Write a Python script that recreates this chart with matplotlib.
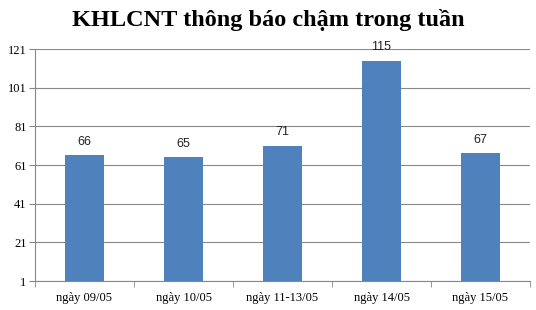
import matplotlib
matplotlib.use("Agg")
import matplotlib.pyplot as plt
import numpy as np

categories = ["ngày 09/05", "ngày 10/05", "ngày 11-13/05", "ngày 14/05", "ngày 15/05"]
values = [66, 65, 71, 115, 67]
yticks = [1, 21, 41, 61, 81, 101, 121]

fig = plt.figure(figsize=(5.36, 3.10), dpi=100)
ax = fig.add_axes([35/536, 1 - 281/310, (530-35)/536, (281-49)/310])

x = np.arange(len(categories))
ax.bar(x, values, width=0.4, color="#4F81BD", zorder=3, bottom=0)
ax.set_xlim(-0.5, len(categories) - 0.5)
ax.set_ylim(1, 121)
ax.set_yticks(yticks)
ax.set_yticklabels([str(t) for t in yticks], fontfamily="Liberation Serif", fontsize=9)
ax.yaxis.grid(True, color="#888888", linewidth=0.8, zorder=0)
ax.set_xticks(x)
ax.set_xticklabels(categories, fontfamily="Liberation Serif", fontsize=9)
ax.set_xticks(np.arange(len(categories) + 1) - 0.5, minor=True)
ax.tick_params(axis="x", which="major", length=0, pad=8)
ax.tick_params(axis="x", which="minor", length=4, color="#888888")
ax.tick_params(axis="y", length=4, color="#888888", pad=2)
for s in ["top", "right"]:
    ax.spines[s].set_visible(False)
for s in ["left", "bottom"]:
    ax.spines[s].set_color("#888888")

for xi, v in zip(x, values):
    ax.text(xi, v + 4, str(v), ha="center", va="bottom", fontsize=9,
            fontfamily="Liberation Sans", color="#222222")

fig.text(0.5, 1 - 20/310, "KHLCNT thông báo chậm trong tuần", ha="center", va="center",
         fontsize=17.5, fontweight="bold", fontfamily="Liberation Serif")

fig.savefig("out.png", dpi=100)
